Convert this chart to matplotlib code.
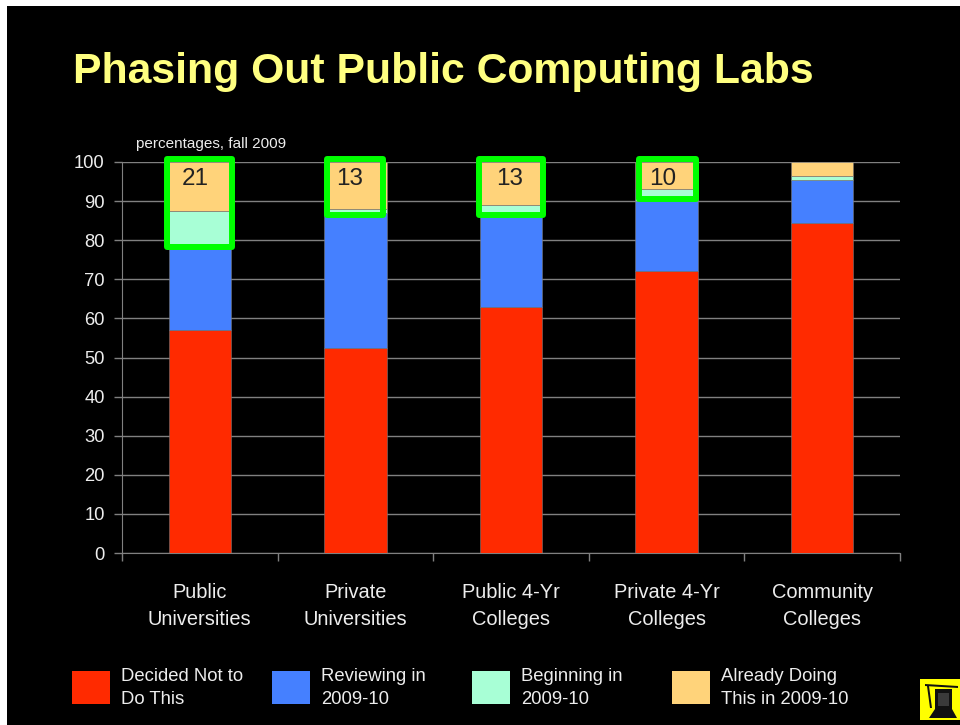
import matplotlib
matplotlib.use("Agg")
import matplotlib.pyplot as plt
from matplotlib.patches import Rectangle, Polygon
import numpy as np

plt.rcParams['font.family'] = ['Liberation Sans', 'DejaVu Sans']

# 数据
categories = ["Public\nUniversities", "Private\nUniversities", "Public 4-Yr\nColleges",
              "Private 4-Yr\nColleges", "Community\nColleges"]
decided = [57, 52.5, 63, 72, 84.5]
reviewing = [22, 34.5, 24, 18, 11]
beginning = [8.5, 1, 2, 3, 1]
already = [12.5, 12, 11, 7, 3.5]
series_names = ["Decided Not to\nDo This", "Reviewing in\n2009-10", "Beginning in\n2009-10",
                "Already Doing\nThis in 2009-10"]
colors = ["#FF2A00", "#4580FF", "#A8FFD6", "#FFD37A"]
y_ticks = list(range(0, 101, 10))
box_labels = ["21", "13", "13", "10"]

W, H = 960, 725
TXT = "#EDEDED"
GRID = "#808080"

fig = plt.figure(figsize=(W / 100, H / 100), dpi=100, facecolor="white")


def px_rect(x0, y0, x1, y1):
    # 像素坐标（左上原点）转 figure 坐标
    return [x0 / W, 1 - y1 / H, (x1 - x0) / W, (y1 - y0) / H]


def px_text(x, y, s, **kw):
    fig.text(x / W, 1 - y / H, s, **kw)


# 黑色幻灯片背景
bg = fig.add_axes(px_rect(7, 6, W, H))
bg.set_facecolor("black")
bg.set_xticks([])
bg.set_yticks([])
for sp in bg.spines.values():
    sp.set_visible(False)

px_text(73, 72, "Phasing Out Public Computing Labs", color="#FFFF80", fontsize=30.8,
        fontweight="bold", va="center", ha="left")
px_text(136, 144, "percentages, fall 2009", color=TXT, fontsize=11, va="center", ha="left")

# 主图
ax = fig.add_axes(px_rect(122, 162, 900, 553))
ax.set_facecolor("none")
x = np.arange(len(categories))
bottom = np.zeros(len(categories))
for vals, c in zip([decided, reviewing, beginning, already], colors):
    ax.bar(x, vals, width=0.4, bottom=bottom, color=c, edgecolor="#777777", linewidth=0.4, zorder=3)
    bottom += np.array(vals)

ax.set_xlim(-0.5, 4.5)
ax.set_ylim(0, 100)
ax.set_yticks(y_ticks)
ax.set_xticks(np.arange(-0.5, 5, 1))
ax.set_xticklabels([])
ax.yaxis.grid(True, color=GRID, linewidth=1.0, zorder=0)
ax.set_axisbelow(True)
ax.tick_params(axis="y", colors=TXT, labelsize=13.2, length=6, width=1, color=GRID, pad=6.5)
ax.tick_params(axis="x", length=6, width=1, color=GRID)
for name, sp in ax.spines.items():
    sp.set_visible(name in ("left", "bottom"))
    sp.set_color(GRID)

for xi, cat in zip(x, categories):
    ax.annotate(cat, (xi, 0), xytext=(0, -38.2), textcoords="offset points", ha="center", va="center",
                color=TXT, fontsize=14.4, linespacing=1.55)

# 绿色高亮框和数字
overlay = fig.add_axes([0, 0, 1, 1], facecolor="none")
overlay.set_xlim(0, W)
overlay.set_ylim(H, 0)
overlay.axis("off")
boxes = [(166.5, 158.5, 231.5, 246.5), (327, 158.5, 383, 214.5),
         (479, 158.5, 543, 214.5), (639, 158.5, 695.5, 199)]
label_pos = [(195, 179), (350, 179), (510, 179), (663, 179)]
for (x0, y0, x1, y1), s, (tx, ty) in zip(boxes, box_labels, label_pos):
    overlay.add_patch(Rectangle((x0, y0), x1 - x0, y1 - y0, fill=False, edgecolor="#00FF00",
                                linewidth=4.3, joinstyle="round"))
    overlay.text(tx, ty, s, color="#222222", fontsize=17.5, ha="center", va="center")

# 图例
legend_x = [72, 272, 472, 672]
for lx, name, c in zip(legend_x, series_names, colors):
    overlay.add_patch(Rectangle((lx, 671), 38, 33, facecolor=c, edgecolor="none"))
    overlay.text(lx + 49, 688, name, color=TXT, fontsize=13.3, ha="left", va="center", linespacing=1.49)

# 右下角标志
overlay.add_patch(Rectangle((920, 679), 40, 41, facecolor="#FFFF00", edgecolor="none"))
overlay.add_patch(Polygon([(925, 684), (958, 686), (958, 688), (925, 686)], facecolor="#111111"))
overlay.add_patch(Polygon([(927, 686), (929, 686), (932, 708), (930, 708)], facecolor="#111111"))
overlay.add_patch(Rectangle((935, 689), 17, 20, facecolor="#111111", edgecolor="none"))
overlay.add_patch(Rectangle((938, 693), 11, 13, facecolor="#3A3A3A", edgecolor="none"))
overlay.add_patch(Polygon([(929, 718), (935, 709), (952, 709), (957, 718)], facecolor="#111111"))

fig.savefig("out.png", dpi=100, facecolor=fig.get_facecolor())
